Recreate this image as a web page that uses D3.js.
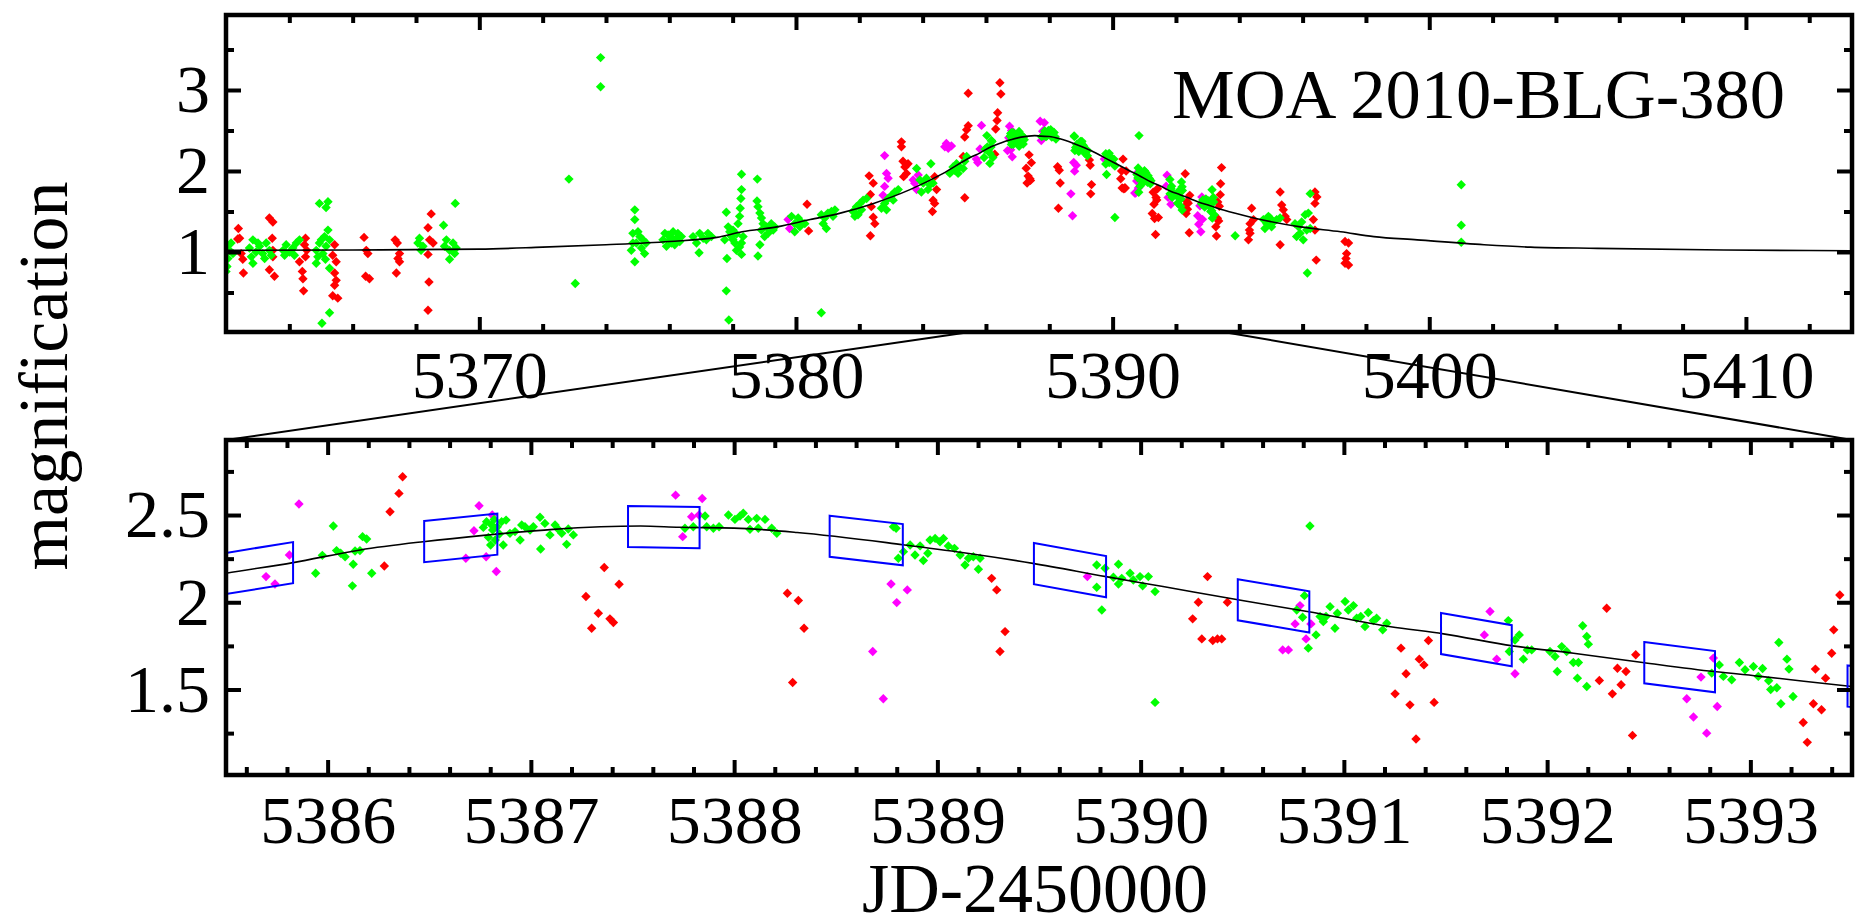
<!DOCTYPE html>
<html>
<head>
<meta charset="utf-8">
<script src="https://cdn.jsdelivr.net/npm/d3@7"></script>
<style>
  html, body { margin: 0; padding: 0; background: #fff; }
  svg { display: block; }
  text { font-family: "Liberation Serif", "Times New Roman", serif; fill: #000; }
</style>
</head>
<body>
<svg id="chart" width="1855" height="919"></svg>
<script>
// ---------------- data ----------------
// best-fit model light curve (JD-2450000, magnification)
const modelDay = [5362.0, 5366.0, 5370.0, 5372.0, 5374.0, 5376.0, 5377.5, 5378.3, 5379.4, 5380.45,
  5381.4, 5382.45, 5383.6, 5384.65, 5385.5, 5385.83, 5386.16, 5386.47, 5386.78, 5387.11,
  5387.54, 5387.73, 5388.0, 5388.31, 5388.83, 5389.13, 5389.47, 5389.83, 5390.11, 5390.5,
  5390.82, 5391.23, 5391.49, 5391.83, 5392.13, 5392.47, 5392.82, 5393.06, 5393.5, 5394.46,
  5395.93, 5397.2, 5398.25, 5399.62, 5401.73, 5403.2, 5405.31, 5409.3, 5413.35];
const modelMag = [1.02, 1.025, 1.035, 1.06, 1.09, 1.13, 1.18, 1.25, 1.31, 1.40,
  1.48, 1.60, 1.77, 1.97, 2.166, 2.227, 2.30, 2.347, 2.385, 2.418,
  2.437, 2.43, 2.425, 2.40, 2.33, 2.284, 2.223, 2.147, 2.09, 2.01,
  1.947, 1.86, 1.819, 1.75, 1.708, 1.655, 1.603, 1.574, 1.517, 1.42,
  1.31, 1.25, 1.19, 1.15, 1.09, 1.06, 1.045, 1.025, 1.015];

// photometry, one array per telescope: [JD-2450000, magnification]
const redPoints = [
  [5362.39,1.29],[5362.43,1.17],[5362.37,1.16],[5362.48,0.98],[5362.53,0.91],[5362.55,0.74],
  [5363.37,1.42],[5363.48,1.37],[5363.46,1.17],[5363.48,1.02],[5363.48,0.94],[5363.37,0.78],[5363.53,0.70],
  [5364.51,1.17],[5364.48,1.09],[5364.55,1.02],[5364.51,0.94],[5364.32,0.88],[5364.41,0.76],[5364.43,0.67],[5364.45,0.52],
  [5365.43,1.09],[5365.37,0.96],[5365.48,0.88],[5365.43,0.74],[5365.48,0.65],[5365.43,0.59],[5365.37,0.46],[5365.53,0.43],
  [5366.36,1.18],[5366.43,1.02],[5366.48,0.98],[5366.41,0.70],[5366.53,0.67],
  [5367.34,1.15],[5367.41,1.11],[5367.48,0.98],[5367.43,0.92],[5367.48,0.88],[5367.38,0.74],
  [5368.48,1.47],[5368.38,1.30],[5368.43,1.15],[5368.54,1.11],[5368.38,0.97],[5368.41,0.63],[5368.38,0.28],
  [5380.35,1.59],[5380.40,1.26],
  [5382.31,1.94],[5382.44,1.85],[5382.35,1.71],[5382.38,1.56],[5382.44,1.43],[5382.49,1.35],[5382.35,1.20],
  [5383.33,2.36],[5383.33,2.30],[5383.38,2.12],[5383.44,2.05],[5383.49,1.97],[5383.54,2.09],[5383.40,1.93],
  [5384.38,1.93],[5384.44,1.77],[5384.33,1.64],[5384.38,1.60],[5384.31,1.50],
  [5385.33,1.67],[5385.28,2.18],[5385.33,2.42],[5385.39,2.51],[5385.44,2.56],[5385.44,2.96],
  [5386.44,3.09],[5386.47,2.95],
  [5386.369,2.719],[5386.351,2.624],[5386.307,2.519],[5386.279,2.208],
  [5387.361,2.199],[5387.434,2.103],[5387.271,2.033],[5387.332,1.937],[5387.299,1.851],[5387.389,1.905],[5387.406,1.884],
  [5388.262,2.052],[5388.316,2.01],[5388.344,1.851],[5388.288,1.54],
  [5389.267,2.137],[5389.292,2.071],[5389.333,1.832],[5389.308,1.718],
  [5390.329,2.147],[5390.284,2.0],[5390.256,1.905],[5390.301,1.79],[5390.355,1.781],[5390.378,1.79],[5390.399,1.79],[5390.427,2.0],
  [5391.281,1.737],[5391.306,1.59],[5391.371,1.674],[5391.394,1.641],[5391.416,1.781],[5391.252,1.475],[5391.325,1.412],[5391.444,1.426],[5391.355,1.216],
  [5392.293,1.966],[5392.436,1.699],[5392.346,1.622],[5392.388,1.603],[5392.257,1.552],[5392.364,1.527],[5392.321,1.475],[5392.42,1.237],
  [5393.26,1.311],[5393.28,1.197],[5393.31,1.418],[5393.32,1.617],[5393.35,1.384],[5393.37,1.565],[5393.40,1.708],[5393.41,1.842],[5393.44,2.042],
  [5394.39,1.54],[5394.45,1.40],[5394.34,1.35],[5394.32,1.27],[5394.34,1.23],[5394.29,1.15],
  [5395.29,1.74],[5395.34,1.58],[5395.39,1.52],[5395.45,1.44],[5395.50,1.40],[5395.29,1.09],
  [5396.39,1.74],[5396.45,1.68],[5396.39,1.60],[5396.34,1.40],[5396.39,1.27],[5396.43,0.90],
  [5397.34,1.13],[5397.45,1.11],[5397.39,0.98],[5397.37,0.92],[5397.45,0.84],[5397.34,0.86]
];

const magentaPoints = [
  [5379.75,1.40],[5379.80,1.29],
  [5382.80,2.19],[5382.86,1.97],[5382.91,1.91],[5382.80,1.81],[5382.75,1.70],
  [5383.70,1.89],[5383.75,1.85],[5383.81,1.77],[5383.86,1.95],
  [5384.70,2.30],[5384.81,2.28],[5384.91,2.31],[5384.75,2.34],
  [5385.859,2.563],[5385.812,2.271],[5385.697,2.147],[5385.741,2.105],
  [5386.745,2.553],[5386.810,2.50],[5386.72,2.41],[5386.68,2.252],[5386.78,2.261],[5386.83,2.176],
  [5387.712,2.614],[5387.843,2.595],[5387.791,2.49],[5387.827,2.50],[5387.747,2.376],
  [5388.772,2.105],[5388.852,2.071],[5388.80,1.998],[5388.682,1.718],[5388.734,1.447],
  [5389.738,2.147],
  [5390.784,1.981],[5390.76,1.876],[5390.838,1.876],[5390.814,1.79],[5390.699,1.727],[5390.727,1.727],
  [5391.719,1.947],[5391.691,1.813],[5391.752,1.674],[5391.842,1.59],
  [5392.818,1.68],[5392.757,1.571],[5392.687,1.447],[5392.72,1.342],[5392.785,1.25],[5392.837,1.403]
];

const greenPoints = [
  [5362.01,1.07],[5362.11,1.02],[5362.06,0.92],[5362.0,0.76],[5362.16,1.11],[5362.03,0.82],[5362.22,0.98],[5362.0,1.00],
  [5362.85,1.15],[5362.85,0.86],[5362.95,1.00],[5363.06,1.07],[5363.16,0.98],[5363.27,1.11],[5363.37,1.02],[5362.80,0.94],[5363.01,1.11],[5363.22,0.92],[5363.43,0.96],[5362.74,1.05],
  [5363.80,1.02],[5363.90,1.09],[5364.01,1.00],[5364.11,1.05],[5364.22,1.11],[5364.32,1.15],[5363.85,0.96],[5364.16,0.96],
  [5364.85,1.02],[5364.90,0.94],[5364.95,1.11],[5365.01,1.15],[5365.06,0.98],[5365.11,1.19],[5365.16,1.07],[5365.22,1.27],[5365.27,1.15],[5364.85,0.86],[5365.14,0.91],
  [5364.95,1.60],[5365.22,1.62],[5365.16,1.55],[5365.27,0.80],[5365.27,0.25],[5365.03,0.12],
  [5368.06,1.11],[5368.11,1.17],[5368.16,1.02],[5368.22,1.07],
  [5368.87,1.33],[5368.96,1.15],[5369.06,1.02],[5369.17,1.11],[5369.22,0.98],[5369.06,0.91],[5369.24,1.60],[5368.90,1.07],[5369.27,1.05],
  [5372.83,1.90],[5373.03,0.61],[5373.83,3.40],[5373.83,3.04],
  [5374.91,1.52],[5374.91,1.40],[5374.85,1.23],[5375.07,1.19],[5374.96,1.11],[5375.17,1.15],[5374.80,1.02],[5375.22,0.98],[5374.91,0.88],[5375.12,1.05],[5375.01,1.25],[5375.27,1.11],[5374.85,1.11],
  [5375.80,1.15],[5375.96,1.21],[5376.07,1.11],[5376.22,1.17],[5376.33,1.13],[5375.91,1.07],[5376.12,1.25],[5376.38,1.19],[5376.01,1.15],[5376.17,1.09],[5375.86,1.23],[5376.27,1.23],[5376.05,1.18],[5376.20,1.13],
  [5376.75,1.19],[5376.96,1.23],[5377.17,1.15],[5377.33,1.19],[5376.86,1.11],[5377.07,1.17],[5376.94,0.99],[5377.22,1.23],
  [5377.80,1.49],[5377.86,1.31],[5377.91,1.25],[5377.96,1.19],[5378.01,1.15],[5378.07,1.11],[5378.12,1.22],[5378.17,1.35],[5378.22,1.44],[5378.24,1.54],[5378.26,1.66],[5378.28,1.77],[5378.28,1.96],[5378.28,1.11],[5378.22,1.06],[5378.28,0.97],[5377.82,0.92],[5377.80,0.52],[5377.88,0.16],[5377.75,1.15],[5378.12,1.02],[5378.33,1.19],[5378.01,1.27],
  [5378.78,1.90],[5378.77,1.63],[5378.80,1.56],[5378.86,1.48],[5378.91,1.42],[5378.96,1.35],[5379.07,1.31],[5379.17,1.29],[5379.28,1.27],[5379.12,1.23],[5379.01,1.19],[5378.86,1.09],[5378.80,0.95],[5379.22,1.35],[5379.33,1.31],[5378.91,1.27],
  [5379.86,1.44],[5379.96,1.35],[5380.07,1.42],[5380.17,1.37],[5379.96,1.25],[5380.12,1.31],[5380.28,1.35],
  [5380.80,1.46],[5380.91,1.42],[5381.01,1.48],[5381.12,1.50],[5381.23,1.52],[5380.86,1.35],[5380.96,1.29],[5381.17,1.44],[5380.80,0.25],
  [5381.80,1.50],[5381.91,1.56],[5382.02,1.60],[5382.12,1.64],[5382.23,1.66],[5381.86,1.44],[5382.07,1.52],[5381.96,1.46],
  [5382.70,1.54],[5382.80,1.60],[5382.91,1.66],[5383.02,1.70],[5383.12,1.74],[5383.23,1.77],[5382.86,1.52],[5383.07,1.64],
  [5383.81,2.03],[5384.26,2.09],
  [5383.91,1.89],[5384.02,1.85],[5384.12,1.91],[5384.23,1.83],[5383.96,1.74],[5384.17,1.77],[5384.33,1.85],
  [5384.96,2.05],[5385.07,2.09],[5385.17,2.05],[5385.12,1.97],[5385.28,2.03],[5384.86,1.97],[5385.02,2.01],[5385.33,2.12],[5385.39,2.18],
  [5385.941,2.166],[5385.974,2.269],[5386.028,2.437],[5386.044,2.296],[5386.064,2.281],[5386.086,2.261],[5386.126,2.218],[5386.122,2.094],[5386.135,2.294],[5386.159,2.296],[5386.172,2.376],[5386.192,2.363],[5386.217,2.166],
  [5386.766,2.429],[5386.782,2.462],[5386.791,2.372],[5386.802,2.328],[5386.812,2.414],[5386.819,2.475],[5386.825,2.357],[5386.835,2.433],[5386.845,2.391],[5386.864,2.328],[5386.807,2.443],[5386.856,2.462],
  [5386.878,2.471],[5386.897,2.395],[5386.922,2.405],[5386.947,2.357],[5386.955,2.443],[5386.971,2.433],[5386.996,2.414],[5387.012,2.433],[5387.045,2.487],[5387.048,2.305],[5387.069,2.452],[5387.094,2.386],[5387.119,2.443],[5387.135,2.418],[5387.152,2.395],[5387.184,2.42],[5387.176,2.332],[5387.209,2.386],
  [5387.758,2.424],[5387.799,2.433],[5387.857,2.494],[5387.865,2.433],[5387.898,2.424],[5387.926,2.433],[5387.972,2.50],[5388.004,2.475],[5388.029,2.494],
  [5388.07,2.475],[5388.078,2.418],[5388.111,2.481],[5388.119,2.424],[5388.152,2.475],[5388.185,2.424],[5388.21,2.395],[5388.045,2.51],
  [5388.784,2.433],[5388.797,2.424],[5388.808,2.252],[5388.833,2.29],[5388.866,2.328],[5388.89,2.271],[5388.915,2.323],[5388.931,2.239],[5388.953,2.281],[5388.964,2.357],[5388.989,2.366],[5389.013,2.347],[5389.03,2.366],[5389.054,2.323],[5389.084,2.309],[5389.112,2.271],[5389.136,2.214],[5389.153,2.252],[5389.177,2.261],[5389.202,2.189],[5389.21,2.252],
  [5389.784,2.214],[5389.784,2.086],[5389.809,1.956],[5389.825,2.195],[5389.866,2.143],[5389.891,2.218],[5389.891,2.105],[5389.907,2.137],[5389.948,2.166],[5389.964,2.128],[5389.997,2.147],[5390.01,2.094],[5390.038,2.147],[5390.071,2.061],[5390.071,1.426],
  [5390.833,2.437],[5390.806,2.038],[5390.768,1.956],[5390.797,1.914],[5390.825,1.737],[5390.863,1.813],[5390.883,1.918],[5390.899,1.889],[5390.912,1.918],[5390.932,1.975],[5390.956,1.851],[5390.968,1.937],[5391.006,2.004],[5391.022,1.956],[5391.047,1.981],[5391.063,1.908],[5391.083,1.918],[5391.104,1.861],[5391.12,1.941],[5391.145,1.895],[5391.161,1.908],[5391.191,1.842],[5391.211,1.88],
  [5391.809,1.895],[5391.814,1.718],[5391.842,1.784],[5391.863,1.813],[5391.883,1.674],[5391.903,1.727],[5391.924,1.727],[5392.014,1.718],[5392.039,1.689],[5392.05,1.603],[5392.072,1.746],[5392.096,1.718],[5392.129,1.655],[5392.154,1.655],[5392.149,1.565],[5392.175,1.865],[5392.195,1.804],[5392.203,1.76],[5392.195,1.517],
  [5392.81,1.594],[5392.847,1.641],[5392.867,1.575],[5392.908,1.556],[5392.946,1.655],[5392.974,1.613],[5393.015,1.632],[5393.039,1.575],[5393.06,1.62],[5393.09,1.55],
  [5393.10,1.50],[5393.13,1.51],[5393.14,1.769],[5393.15,1.418],[5393.18,1.674],[5393.19,1.617],[5393.21,1.46],
  [5393.87,1.20],
  [5394.76,1.40],[5394.87,1.35],[5394.97,1.42],[5395.08,1.37],[5395.18,1.40],[5395.29,1.42],[5394.81,1.29],[5395.02,1.31],[5394.92,1.44],
  [5395.76,1.35],[5395.87,1.31],[5395.97,1.37],[5396.08,1.46],[5396.18,1.48],[5395.81,1.19],[5395.92,1.23],[5396.02,1.15],[5396.13,1.27],[5396.24,1.29],[5396.15,0.74],[5396.24,1.72],
  [5401.01,1.83],[5401.01,1.33],[5401.01,1.12]
];

// nightly windows marked on the zoomed panel
const windowStart = [5385.475, 5386.475, 5387.478, 5388.47, 5389.475, 5390.478, 5391.478, 5392.478, 5393.478];
const windowEnd   = [5385.83, 5386.835, 5387.83, 5388.83, 5389.83, 5390.83, 5391.826, 5392.826, 5393.83];
const windowHalfHeight = 0.118;

// axes
const overviewDomainX = [5362, 5413.35];
const overviewDomainY = [0.012, 3.926];
const overviewTicksX = [5370, 5380, 5390, 5400, 5410];
const overviewTicksY = [1, 2, 3];
const zoomDomainX = [5385.5, 5393.5];
const zoomDomainY = [1.01, 2.93];
const zoomTicksX = [5386, 5387, 5388, 5389, 5390, 5391, 5392, 5393];
const zoomTicksY = [1.5, 2, 2.5];

const titleText = "MOA 2010-BLG-380";
const xLabel = "JD-2450000";
const yLabel = "magnification";

// ---------------- drawing ----------------
const svg = d3.select("#chart");
const left = 226, right = 1852;
const overviewBox = { top: 15, bottom: 332 };
const zoomBox = { top: 440, bottom: 775 };
const fontSize = 68;

const xOver = d3.scaleLinear(overviewDomainX, [left, right]);
const yOver = d3.scaleLinear(overviewDomainY, [overviewBox.bottom, overviewBox.top]);
const xZoom = d3.scaleLinear(zoomDomainX, [left, right]);
const yZoom = d3.scaleLinear(zoomDomainY, [zoomBox.bottom, zoomBox.top]);

const diamond = "M0,-4.7L4.7,0L0,4.7L-4.7,0Z";
const series = [
  { pts: redPoints, color: "#ff0000" },
  { pts: magentaPoints, color: "#ff00ff" },
  { pts: greenPoints, color: "#00ff00" }
];
const model = modelDay.map((d, i) => [d, modelMag[i]]);

function modelAt(day) {
  const i = Math.max(1, Math.min(modelDay.length - 1, d3.bisectLeft(modelDay, day)));
  const t = (day - modelDay[i - 1]) / (modelDay[i] - modelDay[i - 1]);
  return modelMag[i - 1] + t * (modelMag[i] - modelMag[i - 1]);
}

function drawPanel(id, x, y, box, opts) {
  const g = svg.append("g").attr("class", "panel-" + id);

  svg.append("clipPath").attr("id", "clip-" + id)
    .append("rect").attr("x", left).attr("y", box.top)
    .attr("width", right - left).attr("height", box.bottom - box.top);

  const plot = g.append("g").attr("clip-path", `url(#clip-${id})`);

  series.forEach(s => {
    plot.append("g").selectAll("path").data(s.pts).join("path")
      .attr("d", diamond)
      .attr("transform", d => `translate(${x(d[0])},${y(d[1])})`)
      .attr("fill", s.color);
  });

  plot.append("path").datum(model)
    .attr("fill", "none").attr("stroke", "#000").attr("stroke-width", 1.6)
    .attr("d", d3.line().x(d => x(d[0])).y(d => y(d[1])).curve(d3.curveMonotoneX));

  if (opts.windows) {
    const polys = windowStart.map((s, i) => {
      const e = windowEnd[i], ms = modelAt(s), me = modelAt(e);
      return [[s, ms + windowHalfHeight], [e, me + windowHalfHeight],
              [e, me - windowHalfHeight], [s, ms - windowHalfHeight]];
    });
    plot.append("g").selectAll("polygon").data(polys).join("polygon")
      .attr("points", p => p.map(c => `${x(c[0])},${y(c[1])}`).join(" "))
      .attr("fill", "none").attr("stroke", "#0000ff").attr("stroke-width", 2);
  }

  // axes: inward major/minor ticks on all four sides, labels bottom and left
  const ax = g.append("g").attr("class", "axes");
  const majorLen = 15, minorLen = 8;
  const addAxis = (gen, tx, ty, cls) => {
    const a = ax.append("g").attr("transform", `translate(${tx},${ty})`).call(gen);
    a.select(".domain").remove();
    a.selectAll("line").attr("stroke", "#000").attr("stroke-width", 4);
    a.selectAll("text").attr("font-size", fontSize)
      .attr("font-family", '"Liberation Serif", "Times New Roman", serif').attr("fill", "#000");
    return a;
  };
  const fmt = d3.format("");
  addAxis(d3.axisBottom(x).tickValues(opts.ticksX).tickSizeInner(-majorLen).tickSizeOuter(0)
    .tickPadding(opts.padX).tickFormat(fmt), 0, box.bottom);
  addAxis(d3.axisBottom(x).tickValues(opts.minorX).tickSizeInner(-minorLen).tickSizeOuter(0)
    .tickFormat(""), 0, box.bottom);
  addAxis(d3.axisTop(x).tickValues(opts.ticksX).tickSizeInner(-majorLen).tickSizeOuter(0)
    .tickFormat(""), 0, box.top);
  addAxis(d3.axisTop(x).tickValues(opts.minorX).tickSizeInner(-minorLen).tickSizeOuter(0)
    .tickFormat(""), 0, box.top);
  addAxis(d3.axisLeft(y).tickValues(opts.ticksY).tickSizeInner(-majorLen).tickSizeOuter(0)
    .tickPadding(16).tickFormat(fmt), left, 0);
  addAxis(d3.axisLeft(y).tickValues(opts.minorY).tickSizeInner(-minorLen).tickSizeOuter(0)
    .tickFormat(""), left, 0);
  addAxis(d3.axisRight(y).tickValues(opts.ticksY).tickSizeInner(-majorLen).tickSizeOuter(0)
    .tickFormat(""), right, 0);
  addAxis(d3.axisRight(y).tickValues(opts.minorY).tickSizeInner(-minorLen).tickSizeOuter(0)
    .tickFormat(""), right, 0);

  g.append("rect").attr("x", left).attr("y", box.top)
    .attr("width", right - left).attr("height", box.bottom - box.top)
    .attr("fill", "none").attr("stroke", "#000").attr("stroke-width", 4.5);
  return g;
}

const overMinorX = d3.range(5364, 5413.4, 2).filter(v => v % 10 !== 0);
const overMinorY = [0.5, 1.5, 2.5, 3.5];
const zoomMinorX = d3.range(5385.6, 5393.5, 0.2).map(v => +v.toFixed(1)).filter(v => Math.abs(v - Math.round(v)) > 0.01);
const zoomMinorY = [1.25, 1.75, 2.25, 2.75];

const over = drawPanel("overview", xOver, yOver, overviewBox,
  { ticksX: overviewTicksX, minorX: overMinorX, ticksY: overviewTicksY, minorY: overMinorY, padX: 18, windows: false });
drawPanel("zoom", xZoom, yZoom, zoomBox,
  { ticksX: zoomTicksX, minorX: zoomMinorX, ticksY: zoomTicksY, minorY: zoomMinorY, padX: 20, windows: true });

over.append("text").attr("x", 1172).attr("y", 118)
  .attr("font-size", 70.5).text(titleText);

// lines tying the zoomed interval to the lower panel
const links = [
  [[xOver(zoomDomainX[0]), overviewBox.bottom], [left, zoomBox.top]],
  [[xOver(zoomDomainX[1]), overviewBox.bottom], [right, zoomBox.top]]
];
svg.append("g").selectAll("line").data(links).join("line")
  .attr("x1", d => d[0][0]).attr("y1", d => d[0][1])
  .attr("x2", d => d[1][0]).attr("y2", d => d[1][1])
  .attr("stroke", "#000").attr("stroke-width", 2);

svg.append("text").attr("x", 1035).attr("y", 912).attr("text-anchor", "middle")
  .attr("font-size", 70).text(xLabel);

svg.append("text").attr("transform", "translate(67,376) rotate(-90)")
  .attr("text-anchor", "middle").attr("font-size", 70).text(yLabel);
</script>
</body>
</html>
